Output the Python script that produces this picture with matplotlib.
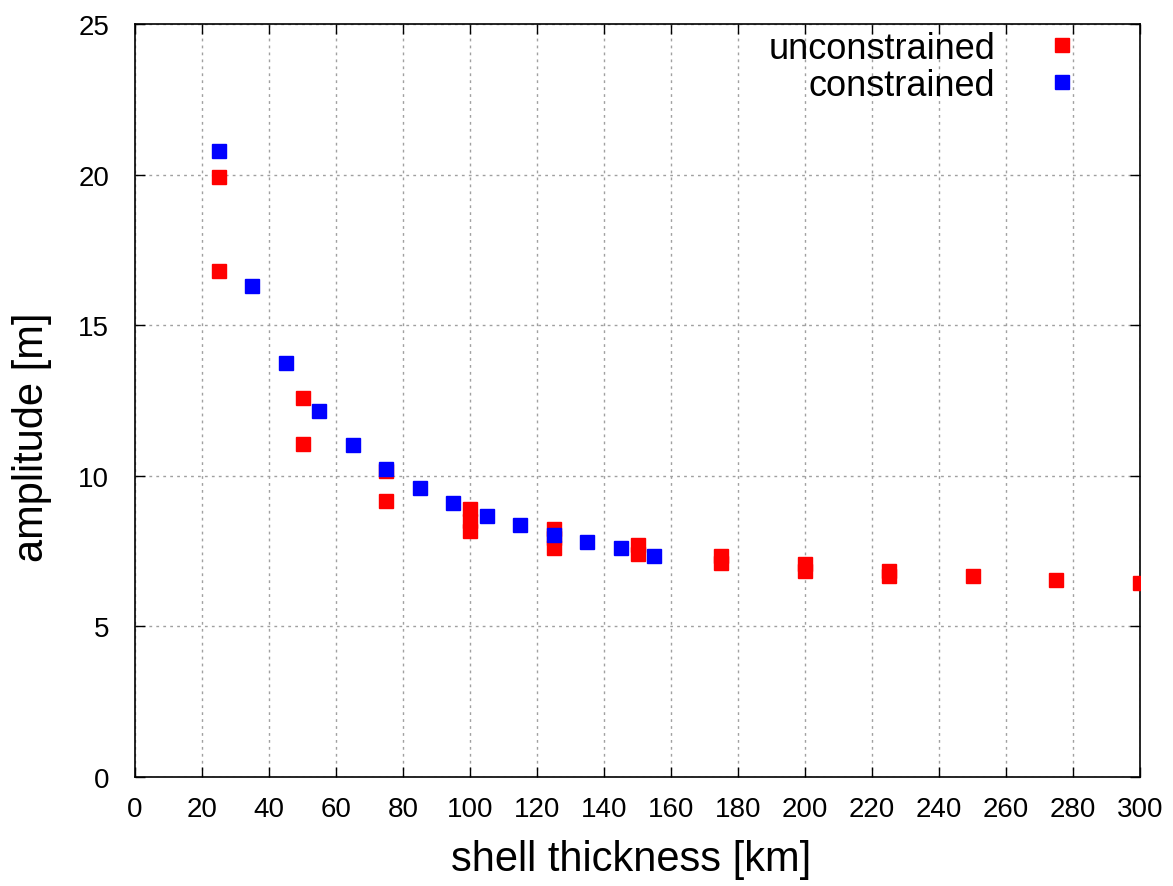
import matplotlib
matplotlib.use("Agg")
import matplotlib.pyplot as plt

# unconstrained runs (red)
unc_thickness = [25, 25, 50, 50, 75, 75, 100, 100, 100, 125, 125, 125,
                 150, 150, 175, 175, 200, 200, 225, 225, 250, 275, 300]
unc_amplitude = [19.91, 16.81, 12.59, 11.07, 10.17, 9.15, 8.90, 8.50, 8.16,
                 8.23, 7.92, 7.60, 7.71, 7.42, 7.33, 7.10, 7.08, 6.85,
                 6.84, 6.66, 6.66, 6.54, 6.44]

# constrained runs (blue)
con_thickness = [25, 35, 45, 55, 65, 75, 85, 95, 105, 115, 125, 135, 145, 155]
con_amplitude = [20.8, 16.29, 13.73, 12.16, 11.03, 10.23, 9.59, 9.10, 8.67,
                 8.36, 8.03, 7.79, 7.59, 7.35]

x_ticks = list(range(0, 301, 20))
y_ticks = list(range(0, 26, 5))

plt.rcParams["font.family"] = ["Liberation Sans", "DejaVu Sans"]

fig = plt.figure(figsize=(11.73, 8.87), dpi=100)
ax = fig.add_axes([0.1151, 0.1229, 0.8568, 0.8489])

ax.plot(unc_thickness, unc_amplitude, linestyle="none", marker="s", ms=9.4,
        color="#ff0000", mec="#ff0000", label="unconstrained", zorder=3)
ax.plot(con_thickness, con_amplitude, linestyle="none", marker="s", ms=9.4,
        color="#0000ff", mec="#0000ff", label="constrained", zorder=4)

ax.set_xlim(0, 300)
ax.set_ylim(0, 25)
ax.set_xticks(x_ticks)
ax.set_yticks(y_ticks)
ax.tick_params(direction="in", length=7, width=1, top=True, right=True,
               labelsize=20, colors="black")
ax.tick_params(axis="x", pad=14)
ax.tick_params(axis="y", pad=18.5)
for sp in ax.spines.values():
    sp.set_linewidth(1.2)

ax.grid(True, color="#a0a0a0", linestyle=(0, (2, 3)), linewidth=1.0)
ax.set_axisbelow(True)

ax.set_xlabel("shell thickness [km]", fontsize=30)
ax.set_ylabel("amplitude [m]", fontsize=30)
ax.xaxis.set_label_coords(0.4935, -0.082)
ax.yaxis.set_label_coords(-0.083, 0.453)

ax.legend(loc="upper right", bbox_to_anchor=(0.958, 0.991),
          markerfirst=False, frameon=False, fontsize=26,
          handlelength=2.0, handletextpad=0.85, borderpad=0.0,
          borderaxespad=0.0, labelspacing=0.05)

fig.savefig("out.png", dpi=100)
